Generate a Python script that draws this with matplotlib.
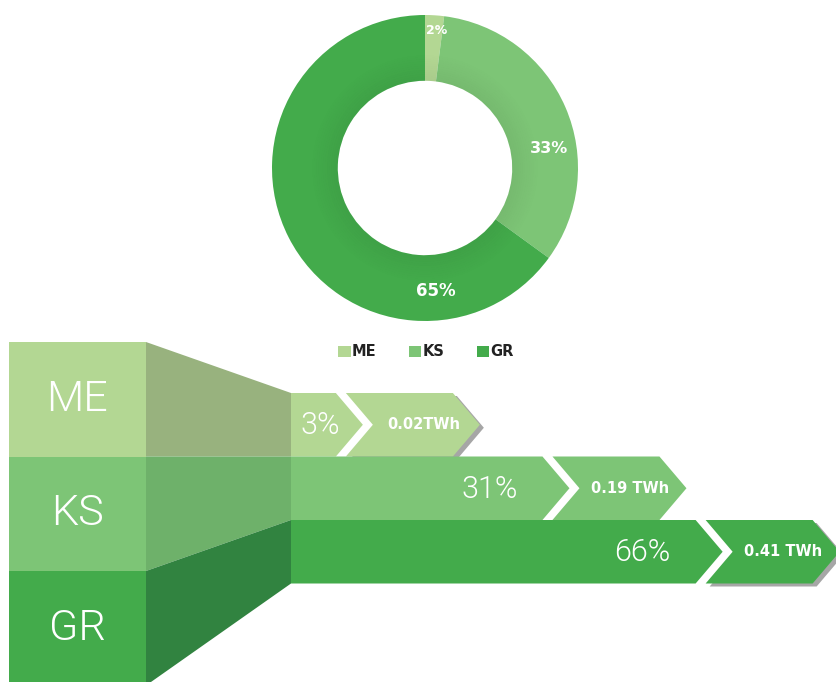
import numpy as np
import matplotlib.pyplot as plt
from matplotlib.patches import Polygon

cats = ['ME', 'KS', 'GR']
donut_share = [2, 33, 65]
bar_share = [3, 31, 66]
energy = [0.02, 0.19, 0.41]
energy_labels = ['0.02TWh', '0.19 TWh', '0.41 TWh']
has_shadow = [True, False, True]

colors = ['#b3d793', '#7dc576', '#43ab4b']
side_colors = ['#98b27e', '#6eb16a', '#318340']

plt.rcParams['font.family'] = ['Roboto', 'DejaVu Sans']
bold_font = ['DejaVu Sans']

fig = plt.figure(figsize=(8.36, 6.82), dpi=100)
W, H = 836, 682

# ---- donut ----
cx, cy, R = 425, 168, 153
pax = fig.add_axes([(cx - R) / W, 1 - (cy + R) / H, 2 * R / W, 2 * R / H])
wedges, _ = pax.pie(donut_share, colors=colors, startangle=90, counterclock=False,
                    radius=1, wedgeprops=dict(width=0.43, edgecolor='none'))
# soft shading towards the hole
n_sh = 12
for k in range(n_sh):
    r_in = 0.57 + k * 0.014
    pax.pie([1], colors=['black'], radius=r_in + 0.014,
            wedgeprops=dict(width=0.014, edgecolor='none', alpha=0.05 * (1 - k / n_sh)))
pax.set_xlim(-1, 1)
pax.set_ylim(-1, 1)
# label angles (deg) and radius
lab_ang = [85, 9, -85]
lab_r = [0.905, 0.82, 0.81]
lab_size = [9, 11.5, 12]
for v, a, r, s in zip(donut_share, lab_ang, lab_r, lab_size):
    pax.text(r * np.cos(np.radians(a)), r * np.sin(np.radians(a)), f'{v}%',
             color='white', fontsize=s, fontweight='bold', family=bold_font,
             ha='center', va='center')

fig.legend(wedges, cats, loc='center', bbox_to_anchor=(426 / W, 1 - 352 / H), ncol=3,
           frameon=False, handlelength=0.85, handleheight=0.85, handletextpad=0.1,
           columnspacing=2.2,
           prop=dict(weight='bold', size=10.5, family=bold_font), labelcolor='#222222')

# ---- funnel / arrows ----
ax = fig.add_axes([0, 0, 1, 1])
ax.set_xlim(0, W)
ax.set_ylim(H, 0)
ax.axis('off')

bx0, bx1, sx1 = 9, 146, 291
block_top, block_h = 342, 114.5
row_top, row_h = 393, 63.5
d = 27

def bar_tip(p):
    return sx1 + 38 * p ** 0.58

for i, c in enumerate(cats):
    t = block_top + i * block_h
    b = t + block_h
    rt = row_top + i * row_h
    rb = rt + row_h
    mid = (rt + rb) / 2
    # front block
    ax.add_patch(Polygon([(bx0, t), (bx1, t), (bx1, b), (bx0, b)], closed=True,
                         facecolor=colors[i], edgecolor='none'))
    ax.text((bx0 + bx1) / 2, (t + b) / 2, c, color='white', fontsize=31,
            fontweight=300, ha='center', va='center')
    # side
    ax.add_patch(Polygon([(bx1, t), (sx1, rt), (sx1, rb), (bx1, b)], closed=True,
                         facecolor=side_colors[i], edgecolor='none'))
    # share bar
    tip = bar_tip(bar_share[i])
    corner = tip - d
    ax.add_patch(Polygon([(sx1, rt), (corner, rt), (tip, mid), (corner, rb), (sx1, rb)],
                         closed=True, facecolor=colors[i], edgecolor='none'))
    ax.text(max(corner - 25, 340), mid + 1, f'{bar_share[i]}%', color='white',
            fontsize=22, fontweight=300, ha='right', va='center')
    # energy arrow
    L = corner + 10
    Rr = L + 107
    pts = [(L, rt), (Rr, rt), (Rr + d, mid), (Rr, rb), (L, rb), (L + d, mid)]
    if has_shadow[i]:
        ax.add_patch(Polygon([(x + 4, y + 3) for x, y in pts], closed=True,
                             facecolor='#a6a6a6', edgecolor='none'))
    ax.add_patch(Polygon(pts, closed=True, facecolor=colors[i], edgecolor='none'))
    ax.text((L + d + Rr + d) / 2 - 3, mid, energy_labels[i], color='white',
            fontsize=10.5, fontweight='bold', family=bold_font, ha='center', va='center')

fig.savefig('out.png', dpi=100)
